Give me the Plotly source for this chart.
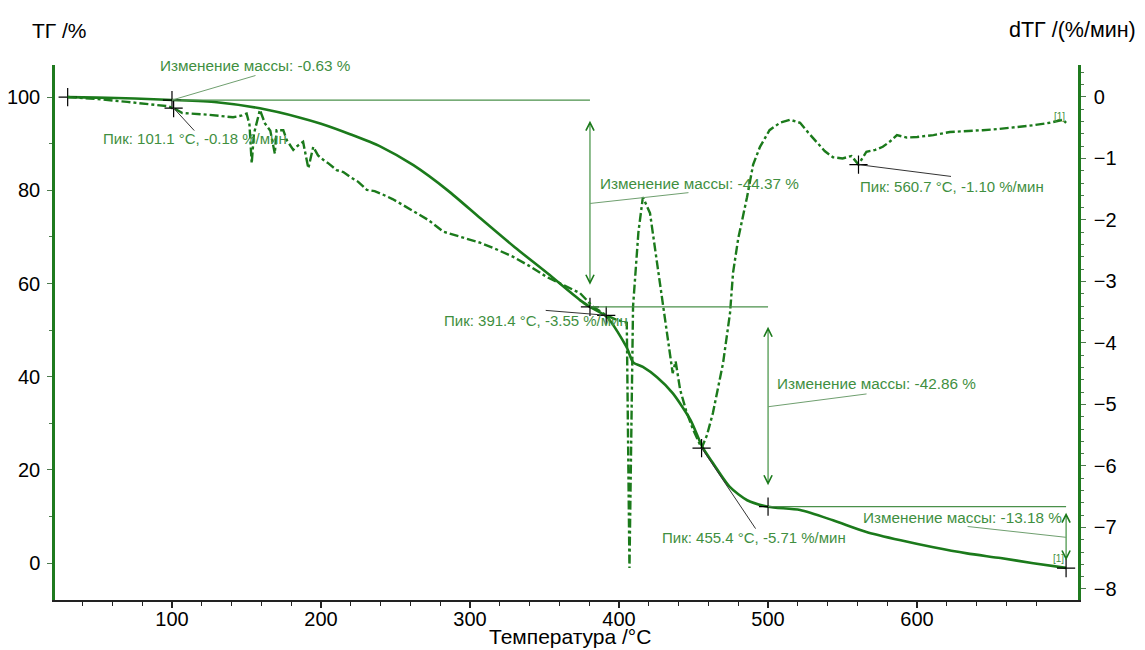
import plotly.graph_objects as go

# ---------------- data ----------------
tg_temp = [30, 50, 75, 100, 130, 159, 186, 200, 220, 240, 262, 285, 307, 330, 352, 374,
           380.5, 392, 405, 409.5, 416, 425.5, 436, 448, 456, 463, 474.5, 486, 500,
           521.5, 543.6, 566, 589, 611, 633.5, 656, 678, 700]
tg_mass = [100.0, 99.9, 99.7, 99.4, 98.9, 97.6, 95.6, 94.3, 92.0, 89.4, 85.4, 80.0, 74.0, 67.8, 62.2, 56.4,
           55.0, 52.8, 46.4, 43.1, 42.1, 39.9, 36.5, 30.7, 24.9, 21.5, 16.3, 13.5, 12.1,
           11.4, 9.2, 6.7, 4.9, 3.4, 2.1, 1.1, 0.0, -1.0]

dtg_temp = [30, 48, 70, 97, 101.1, 107, 125, 141, 147, 150.1, 152, 153.5, 155, 159, 162.4, 166, 169,
            170.2, 174.7, 177, 181.4, 184, 188, 191.5, 194.8, 198, 201.5, 205, 210.5, 215, 219.5,
            225, 230.7, 236, 241.8, 248, 255.2, 264.2, 272, 282, 295, 306.7, 318, 329, 340, 351.7,
            362, 373.8, 382.6, 391.4, 398, 405.2, 407.0, 409.4, 413, 416, 420.8, 425, 429.5, 432,
            436, 438, 441, 445, 449.7, 455.4, 459, 463, 469.8, 474.5, 476.5, 480, 485.9, 490, 494.6,
            501, 508, 514.8, 521.5, 527, 533, 538, 543.6, 550, 556, 560.7, 566, 572, 577, 582, 586.5,
            593, 600, 611, 622, 633, 644, 655, 667, 678, 689, 698, 700]
dtg_rate = [0.0, -0.03, -0.08, -0.15, -0.18, -0.26, -0.29, -0.33, -0.30, -0.27, -0.45, -1.08, -0.60,
            -0.21, -0.43, -0.55, -0.92, -0.54, -0.54, -0.70, -0.86, -0.80, -0.73, -1.16, -0.81, -0.95,
            -1.02, -1.08, -1.19, -1.22, -1.30, -1.38, -1.51, -1.53, -1.59, -1.66, -1.76, -1.89, -2.0,
            -2.19, -2.28, -2.37, -2.48, -2.60, -2.75, -2.93, -3.05, -3.19, -3.41, -3.55, -3.62, -3.67,
            -7.66, -3.41, -2.2, -1.63, -1.89, -2.6, -3.41, -3.79, -4.49, -4.30, -4.76, -5.10, -5.41,
            -5.71, -5.50, -5.14, -4.33, -3.51, -2.86, -2.30, -1.63, -1.10, -0.81, -0.54, -0.42, -0.37,
            -0.42, -0.58, -0.75, -0.88, -0.98, -1.00, -0.96, -1.10, -0.89, -0.86, -0.81, -0.72, -0.62,
            -0.66, -0.65, -0.62, -0.57, -0.56, -0.54, -0.52, -0.49, -0.46, -0.42, -0.37, -0.42]

# mass-change steps (boundaries in °C) and values (%)
step_temp = [30, 100, 380.5, 500, 700]
mass_change = [-0.63, -44.37, -42.86, -13.18]
start_mass = 100.0

# DTG peaks
peak_temp = [101.1, 391.4, 455.4, 560.7]
peak_rate = [-0.18, -3.55, -5.71, -1.10]

x_ticks = [100, 200, 300, 400, 500, 600]
tg_ticks = [0, 20, 40, 60, 80, 100]
dtg_ticks = [0, -1, -2, -3, -4, -5, -6, -7, -8]

# ---------------- styles ----------------
CURVE = "#1b7a1b"
TXT = "#3f8f3f"
ALINE = "#4a904a"
FONT = "Arial, 'Liberation Sans', sans-serif"

levels = [start_mass]
for mc in mass_change:
    levels.append(levels[-1] + mc)

fig = go.Figure()
fig.add_trace(go.Scatter(x=tg_temp, y=tg_mass, mode="lines", yaxis="y",
                         line=dict(color=CURVE, width=2.6, shape="spline", smoothing=0.7),
                         showlegend=False, hoverinfo="skip"))
fig.add_trace(go.Scatter(x=dtg_temp, y=dtg_rate, mode="lines", yaxis="y2",
                         line=dict(color=CURVE, width=2.4, dash="dashdot"),
                         showlegend=False, hoverinfo="skip"))

# crosshair markers
cross = dict(symbol="cross-thin", size=13, line=dict(color="black", width=1.2), color="black")
fig.add_trace(go.Scatter(x=step_temp, y=levels, mode="markers", yaxis="y", marker=cross,
                         showlegend=False, hoverinfo="skip"))
fig.add_trace(go.Scatter(x=peak_temp, y=peak_rate, mode="markers", yaxis="y2", marker=cross,
                         showlegend=False, hoverinfo="skip"))

shapes = []
annotations = []

# horizontal level lines and vertical double arrows
for i in range(1, 4):
    shapes.append(dict(type="line", xref="x", yref="y", x0=step_temp[i], x1=step_temp[i + 1],
                       y0=levels[i], y1=levels[i], line=dict(color=ALINE, width=1.2)))
    top, bot = levels[i], levels[i + 1]
    inset = 0.1 * (top - bot)
    annotations.append(dict(x=step_temp[i + 1], y=top - inset, ax=step_temp[i + 1], ay=bot + inset,
                            xref="x", yref="y", axref="x", ayref="y", text="", showarrow=True,
                            arrowhead=5, startarrowhead=5, arrowside="end+start",
                            arrowsize=1.6, startarrowsize=1.6, arrowwidth=1, arrowcolor=CURVE,
                            standoff=0, startstandoff=0))

# mass-change labels (leader offsets and text offsets in pixels)
mc_leader = [(85, -25), (100, -11), (100, -13), (-100, -11)]
mc_text = [(-14, 35, "left"), (8, 20, "left"), (7, 23, "left"), (-2, 20, "right")]
for k, mc in enumerate(mass_change):
    if k == 0:
        ax_t, ay_v = step_temp[1], levels[1]
    else:
        ax_t, ay_v = step_temp[k + 1], (levels[k] + levels[k + 1]) / 2
    annotations.append(dict(x=ax_t, y=ay_v, xref="x", yref="y", text="", showarrow=True,
                            arrowhead=0, arrowwidth=1, arrowcolor="#6f9f6f",
                            ax=mc_leader[k][0], ay=mc_leader[k][1], standoff=0))
    annotations.append(dict(x=ax_t, y=ay_v, xref="x", yref="y",
                            text=f"Изменение массы: {mc:.2f} %", showarrow=False,
                            xshift=mc_text[k][0], yshift=mc_text[k][1], xanchor=mc_text[k][2],
                            yanchor="middle", font=dict(family=FONT, size=15.3, color=TXT)))

# peak labels
pk_leader = [(22, 24), (-62, -5), (55, 82), (94, 12)]
pk_text = [(21, -30), (-70, -5), (52, -89), (93, -22)]
for k in range(len(peak_temp)):
    annotations.append(dict(x=peak_temp[k], y=peak_rate[k], xref="x", yref="y2", text="",
                            showarrow=True, arrowhead=0, arrowwidth=1, arrowcolor="#333333",
                            ax=pk_leader[k][0], ay=pk_leader[k][1], standoff=0))
    annotations.append(dict(x=peak_temp[k], y=peak_rate[k], xref="x", yref="y2",
                            text=f"Пик: {peak_temp[k]:.1f} °C, {peak_rate[k]:.2f} %/мин",
                            showarrow=False, xshift=pk_text[k][0], yshift=pk_text[k][1],
                            xanchor="center", yanchor="middle",
                            font=dict(family=FONT, size=15, color=TXT)))

# [1] tags at curve ends
annotations.append(dict(x=dtg_temp[-1], y=dtg_rate[-1], xref="x", yref="y2", text="[1]",
                        showarrow=False, xshift=-7, yshift=6,
                        font=dict(family=FONT, size=10, color=TXT)))
annotations.append(dict(x=tg_temp[-1], y=tg_mass[-1], xref="x", yref="y", text="[1]",
                        showarrow=False, xshift=-8, yshift=9,
                        font=dict(family=FONT, size=10, color=TXT)))

# axis titles
annotations.append(dict(x=-0.0244, y=1.0654, xref="paper", yref="paper", text="ТГ /%",
                        showarrow=False, xanchor="left", yanchor="middle",
                        font=dict(family=FONT, size=21, color="black")))
annotations.append(dict(x=1.059, y=1.0654, xref="paper", yref="paper", text="dТГ /(%/мин)",
                        showarrow=False, xanchor="right", yanchor="middle",
                        font=dict(family=FONT, size=21.5, color="black")))
annotations.append(dict(x=0.503, y=-0.068, xref="paper", yref="paper", text="Температура /°C",
                        showarrow=False, xanchor="center", yanchor="middle",
                        font=dict(family=FONT, size=21, color="black")))

x_minor = [t for t in range(40, 701, 20) if t % 100 != 0]
tg_minor = [v for v in range(0, 101, 10) if v % 20 != 0]
dtg_minor = [round(-0.2 * j, 1) for j in range(-2, 42) if j % 5 != 0]

# page body has an 8px margin: the figure is shrunk/shifted so the plot area lands where the reference has it
fig.update_layout(
    width=1137, height=642, autosize=False,
    margin=dict(l=47, r=67, t=57, b=50, autoexpand=False),
    paper_bgcolor="white", plot_bgcolor="white",
    font=dict(family=FONT, size=20, color="black"),
    showlegend=False,
    shapes=shapes, annotations=annotations,
    xaxis=dict(range=[21.5, 708], tickmode="array", tickvals=x_ticks, showgrid=False, zeroline=False,
               automargin=False,
               showline=True, linecolor="#222222", linewidth=2, ticks="outside", ticklen=6,
               tickwidth=1.5, tickcolor="#222222", ticklabelstandoff=-6,
               minor=dict(tickmode="array", tickvals=x_minor, ticks="outside", ticklen=4,
                          tickcolor="#222222", tickwidth=1.2, showgrid=False),
               tickfont=dict(family=FONT, size=20, color="black")),
    yaxis=dict(range=[-7.9, 106.9], tickmode="array", tickvals=tg_ticks, showgrid=False, zeroline=False,
               automargin=False,
               showline=True, linecolor="#1f7a1f", linewidth=2.5, ticks="outside", ticklen=5,
               tickwidth=1.2, tickcolor="#4d7a4d", ticklabelstandoff=3,
               minor=dict(tickmode="array", tickvals=tg_minor, ticks="outside", ticklen=3,
                          tickcolor="#4d7a4d", tickwidth=1, showgrid=False),
               tickfont=dict(family=FONT, size=20, color="black")),
    yaxis2=dict(range=[-8.18, 0.52], overlaying="y", side="right", tickmode="array", tickvals=dtg_ticks,
                automargin=False,
                showgrid=False, zeroline=False, showline=True, linecolor="#1f7a1f", linewidth=2.5,
                ticks="outside", ticklen=5, tickwidth=1.2, tickcolor="#4d7a4d", ticklabelstandoff=4,
                minor=dict(tickmode="array", tickvals=dtg_minor, ticks="outside", ticklen=3,
                           tickcolor="#4d7a4d", tickwidth=1, showgrid=False),
                tickfont=dict(family=FONT, size=20, color="black")),
)

fig.write_html("out.html")
